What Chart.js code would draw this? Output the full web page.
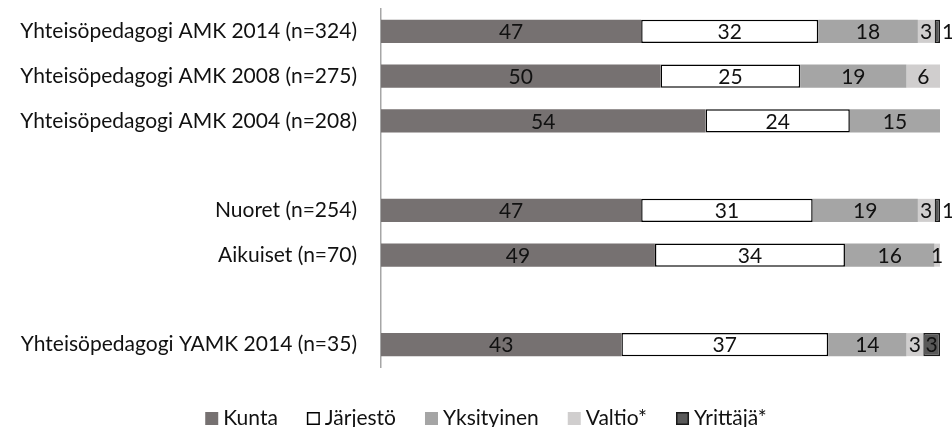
<!DOCTYPE html>
<html>
<head>
<meta charset="utf-8">
<script src="https://cdn.jsdelivr.net/npm/chart.js@4.4.1/dist/chart.umd.min.js"></script>
<style>
  html, body { margin: 0; padding: 0; background: #ffffff; }
  #wrap { width: 952px; height: 427px; position: relative; }
</style>
</head>
<body>
<div id="wrap"><canvas id="c"></canvas></div>
<script>
const categories = [
  "Yhteisöpedagogi AMK 2014 (n=324)",
  "Yhteisöpedagogi AMK 2008 (n=275)",
  "Yhteisöpedagogi AMK 2004 (n=208)",
  "",
  "Nuoret (n=254)",
  "Aikuiset (n=70)",
  "",
  "Yhteisöpedagogi YAMK 2014 (n=35)"
];
const seriesNames = ["Kunta", "Järjestö", "Yksityinen", "Valtio*", "Yrittäjä*"];
const kunta      = [47, 50, 54, null, 47, 49, null, 43];
const jarjesto   = [32, 25, 24, null, 31, 34, null, 37];
const yksityinen = [18, 19, 15, null, 19, 16, null, 14];
const valtio     = [3, 6, null, null, 3, 1, null, 3];
const yrittaja   = [1, null, null, null, 1, null, null, 3];

const rawSeries = [kunta, jarjesto, yksityinen, valtio, yrittaja];
const fills   = ["#767171", "#ffffff", "#a5a5a5", "#d0cece", "#595959"];
const borders = [null, "#000000", null, null, "#1a1a1a"];

// 100% stacked: each row is scaled to its own total
const rowTotals = categories.map((_, i) =>
  rawSeries.reduce((s, arr) => s + (arr[i] == null ? 0 : arr[i]), 0));
const pct = arr => arr.map((v, i) => v == null ? null : v / rowTotals[i] * 100);

const FONT = "Lato";
const FSIZE = 21;
const TEXT = "#111111";

const datasets = rawSeries.map((arr, k) => ({
  label: seriesNames[k],
  data: pct(arr),
  backgroundColor: fills[k],
  borderColor: borders[k] || fills[k],
  borderWidth: borders[k] ? 1.5 : 0,
  borderSkipped: false,
  barPercentage: 0.515,
  categoryPercentage: 1.0
}));

const valueLabels = {
  id: 'valueLabels',
  afterDatasetsDraw(chart) {
    const ctx = chart.ctx;
    ctx.save();
    ctx.font = FSIZE + "px " + FONT;
    ctx.fillStyle = TEXT;
    ctx.textBaseline = "middle";
    chart.data.datasets.forEach((ds, di) => {
      const meta = chart.getDatasetMeta(di);
      meta.data.forEach((bar, i) => {
        const v = rawSeries[di][i];
        if (v == null) return;
        const left = Math.min(bar.x, bar.base), right = Math.max(bar.x, bar.base);
        const w = right - left;
        const text = String(v);
        const tw = ctx.measureText(text).width;
        if (di === rawSeries.length - 1 && tw > w) {
          ctx.textAlign = "left";
          ctx.fillText(text, right + 2, bar.y + 1);
        } else {
          ctx.textAlign = "center";
          ctx.fillText(text, (left + right) / 2, bar.y + 1);
        }
      });
    });
    ctx.restore();
  }
};

// Legend drawn on canvas with Excel-like spacing
const customLegend = {
  id: 'customLegend',
  afterDraw(chart) {
    const ctx = chart.ctx;
    ctx.save();
    ctx.font = FSIZE + "px " + FONT;
    ctx.textBaseline = "alphabetic";
    ctx.textAlign = "left";
    const box = 13, gapText = 5, gapItem = 29;
    const items = chart.data.datasets.map(ds => ({
      label: ds.label, fill: ds.backgroundColor, stroke: ds.borderWidth ? ds.borderColor : null,
      w: box + gapText + ctx.measureText(ds.label).width
    }));
    const total = items.reduce((s, it) => s + it.w, 0) + gapItem * (items.length - 1);
    const centerX = 486;
    const baseline = 425;
    let x = centerX - total / 2;
    items.forEach(it => {
      ctx.fillStyle = it.fill;
      ctx.fillRect(x, baseline - box, box, box);
      if (it.stroke) {
        ctx.strokeStyle = it.stroke;
        ctx.lineWidth = 1.5;
        ctx.strokeRect(x + 0.75, baseline - box + 0.75, box - 1.5, box - 1.5);
      }
      ctx.fillStyle = TEXT;
      ctx.fillText(it.label, x + box + gapText, baseline);
      x += it.w + gapItem;
    });
    ctx.restore();
  }
};

new Chart(document.getElementById('c'), {
  type: 'bar',
  data: { labels: categories, datasets },
  options: {
    indexAxis: 'y',
    responsive: true,
    maintainAspectRatio: false,
    animation: false,
    layout: { padding: { top: 9, right: 12, left: 0, bottom: 60 } },
    scales: {
      x: {
        stacked: true, min: 0, max: 100,
        display: false
      },
      y: {
        stacked: true,
        grid: { display: false, drawTicks: false },
        border: { display: true, color: "#a6a6a6", width: 1.5 },
        ticks: { color: TEXT, padding: 24, font: { family: FONT, size: FSIZE } },
        afterFit: s => { s.width = 381; s.paddingTop = 0; s.paddingBottom = 0; }
      }
    },
    plugins: {
      legend: { display: false },
      tooltip: { enabled: false }
    }
  },
  plugins: [valueLabels, customLegend]
});
</script>
</body>
</html>
